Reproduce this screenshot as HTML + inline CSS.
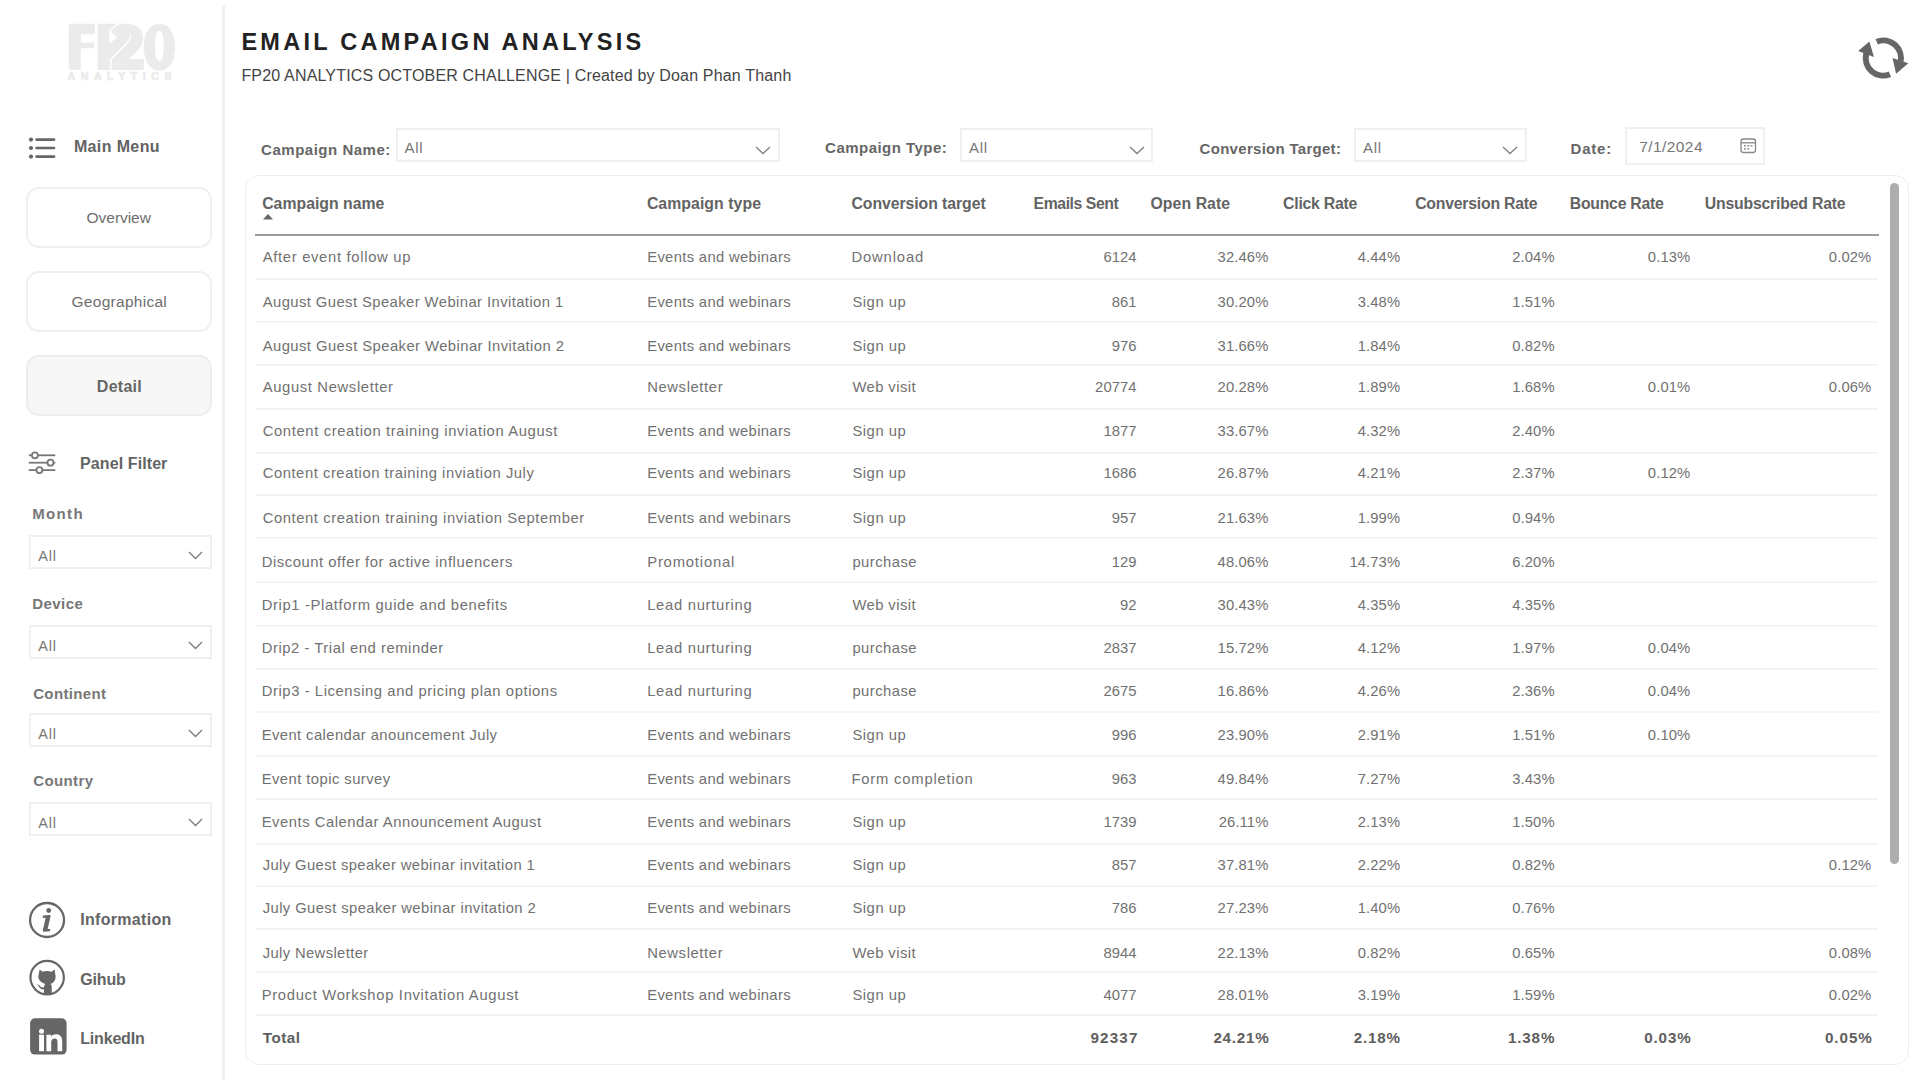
<!DOCTYPE html>
<html><head><meta charset="utf-8">
<style>
html,body{margin:0;padding:0;background:#fff;width:1920px;height:1080px;overflow:hidden;position:relative}
body{font-family:"Liberation Sans",sans-serif}
.t{position:absolute;line-height:0;height:0;white-space:nowrap}
.t.r{text-align:right}
.t.c{text-align:center}
.abs,svg{position:absolute}
.dd{position:absolute;box-sizing:border-box;border:2px solid #f0f0f0;background:transparent}
.btn{position:absolute;box-sizing:border-box;left:26px;width:186px;height:61px;border:2px solid #efefef;border-radius:13px;background:#fff}
.rl{position:absolute;left:255px;width:1623px;height:2px;background:#f4f4f4}
.title{font-size:23.5px;font-weight:700;color:#222;letter-spacing:3.2px}
.sub{font-size:16px;font-weight:400;color:#444;letter-spacing:0.15px}
.menu{font-size:16px;font-weight:700;color:#636363;letter-spacing:0.2px}
.btnt{font-size:15.5px;font-weight:400;color:#6e6e6e;letter-spacing:0.1px}
.btnb{font-size:16px;font-weight:700;color:#666;letter-spacing:0.0px}
.flbl{font-size:15px;font-weight:700;color:#777;letter-spacing:0.2px}
.all{font-size:14.5px;font-weight:400;color:#777;letter-spacing:0.2px}
.link{font-size:16px;font-weight:700;color:#646464;letter-spacing:0.1px}
.flt{font-size:15px;font-weight:700;color:#666;letter-spacing:0.3px}
.date{font-size:15.5px;font-weight:400;color:#777;letter-spacing:0.2px}
.allt{font-size:15px;font-weight:400;color:#777;letter-spacing:0.1px}
.hdr{font-size:15.8px;font-weight:700;color:#636363;letter-spacing:0.0px}
.cell{font-size:14.8px;font-weight:400;color:#717171;letter-spacing:0.5px}
.num{font-size:14.8px;font-weight:400;color:#717171;letter-spacing:0.1px}
.tot{font-size:15.2px;font-weight:700;color:#5e5e5e;letter-spacing:0.0px}
</style></head><body>
<!-- sidebar separator -->
<div class="abs" style="left:222px;top:5px;width:2.5px;height:1075px;background:#f0f0f0"></div>
<!-- logo -->
<svg style="left:0;top:0" width="222" height="100" viewBox="0 0 222 100">
 <g fill="#ebebeb">
  <path d="M68.75 26 Q68.75 23.75 71 23.75 L95 23.75 L95 34.2 L80.8 34.2 L80.8 42.5 L94.2 42.5 L94.2 48.3 L80.8 48.3 L80.8 70 L71 70 Q68.75 70 68.75 67.5 Z"/>
  <path d="M97.5 23.75 L126 23.75 C137 23.75 143 30 143 38 C143 45 139 50 133 55 L128 59 L143.75 59 L143.75 70 L97.5 70 Z"/>
  <path fill-rule="evenodd" d="M159.4 23.75 C168.5 23.75 175 32 175 46.9 C175 61.8 168.5 70.5 159.4 70.5 C150.3 70.5 143.8 61.8 143.8 46.9 C143.8 32 150.3 23.75 159.4 23.75 Z M159.4 30.8 C156.5 30.8 155 36 155 45.8 C155 55.6 156.5 60.8 159.4 60.8 C162.3 60.8 163.8 55.6 163.8 45.8 C163.8 36 162.3 30.8 159.4 30.8 Z"/>
  <text x="67.5" y="80" font-family="Liberation Sans" font-weight="700" font-size="10.5" textLength="104" lengthAdjust="spacing" stroke="#ebebeb" stroke-width="0.7">ANALYTICS</text>
 </g>
 <path d="M108.6 30.8 C112 32 115 34.5 117 37.5 C114.5 39.5 112 41.5 110 43.5 C109.6 39 109.2 34.8 108.6 30.8 Z" fill="#fff"/>
 <g fill="none" stroke="#fff" stroke-width="1.6">
  <path d="M119 24.2 C115 25.5 111.5 28.5 109.8 32"/>
  <path d="M130.6 35.5 C130 39.5 127.5 43 123.5 46.8 L110.8 59.5 L110.8 71"/>
 </g>
</svg>
<!-- menu icon -->
<svg style="left:0;top:120px" width="70" height="50">
 <g fill="#666"><circle cx="31" cy="19.6" r="2.1"/><circle cx="31" cy="28" r="2.1"/><circle cx="31" cy="36.6" r="2.1"/></g>
 <g stroke="#666" stroke-width="2.7" stroke-linecap="round"><line x1="36.6" y1="19.6" x2="54" y2="19.6"/><line x1="36.6" y1="28" x2="54" y2="28"/><line x1="36.6" y1="36.6" x2="54" y2="36.6"/></g>
</svg>
<div class="btn" style="top:187px"></div>
<div class="btn" style="top:271px"></div>
<div class="btn" style="top:355px;background:#f7f7f7;border-color:#ededed"></div>
<!-- panel filter icon -->
<svg style="left:0;top:440px" width="70" height="40">
 <g stroke="#777" stroke-width="1.8" fill="#fff">
  <line x1="28.8" y1="15.3" x2="55.3" y2="15.3"/><line x1="28.8" y1="22.7" x2="55.3" y2="22.7"/><line x1="28.8" y1="30.1" x2="55.3" y2="30.1"/>
  <circle cx="34.9" cy="15.3" r="3"/><circle cx="50.5" cy="22.7" r="3"/><circle cx="39.4" cy="30.1" r="3"/>
 </g>
</svg>
<!-- info icon -->
<svg style="left:0;top:890px" width="80" height="180">
 <circle cx="47.05" cy="30" r="17" fill="none" stroke="#666" stroke-width="2.3"/>
 <circle cx="48.7" cy="20.5" r="2.4" fill="#666"/>
 <path fill="#666" d="M43 25.4 L49.6 25.1 C50.4 25.1 50.7 25.6 50.5 26.4 L47.6 39 L50.3 38.9 L49.9 41.3 L43.9 41.7 C43 41.7 42.6 41.1 42.8 40.3 L45.7 27.8 L42.7 27.9 Z"/>
 <circle cx="47.15" cy="87.6" r="16.7" fill="none" stroke="#666" stroke-width="2.2"/>
 <path fill="#666" d="M39.6 79.6 L42.6 81.8 C44 81.3 45.5 81.1 47 81.1 C48.5 81.1 50 81.3 51.4 81.8 L54.7 79.6 L55.2 84 C55.5 84.8 55.6 85.6 55.6 86.5 C55.6 90.5 53.3 93.2 50.6 94 C51.3 94.6 51.75 95.6 51.75 97 L51.75 104 C50 104.6 45.8 104.6 44 104 L44 99.5 C41.5 99.5 40 98.5 38.6 96.2 C38 95.3 37 94.5 36.2 94.2 C37.6 94.1 39 94.8 40 96 C41 97.3 42.2 97.6 44 97.3 C44.1 95.8 44.6 94.7 45.3 94 C42.3 93.2 38.3 90.5 38.3 86.5 C38.3 85.6 38.5 84.8 38.8 84 Z"/>
 <rect x="30.1" y="128.2" width="36.5" height="36.4" rx="5" fill="#666"/>
 <circle cx="41.5" cy="141.3" r="2.5" fill="#fff"/>
 <rect x="39.1" y="144.7" width="4.9" height="16.5" fill="#fff"/>
 <path fill="#fff" d="M46.4 144.7 L51.2 144.7 L51.2 146.6 C52.2 145 54 144.2 56.2 144.2 C60 144.2 62.2 146.6 62.2 150.8 L62.2 161.2 L57.5 161.2 L57.5 151.8 C57.5 149.8 56.7 148.5 54.8 148.5 C52.6 148.5 51.2 150 51.2 152.5 L51.2 161.2 L46.4 161.2 Z"/>
</svg>
<!-- refresh icon -->
<svg style="left:1850px;top:28px" width="65" height="60">
 <g fill="none" stroke="#666" stroke-width="6">
  <path d="M26.7 13.7 A17.6 17.6 0 0 1 50.3 34.6"/>
  <path d="M39.9 46.3 A17.6 17.6 0 0 1 16.3 25.4"/>
 </g>
 <g fill="#666">
  <path d="M42.5 30.0 L58.3 35.3 L46.1 45.8 Z"/>
  <path d="M8.2 23.0 L24 28.9 L19.4 13.5 Z"/>
 </g>
</svg>
<!-- calendar icon -->
<svg style="left:1738px;top:136px" width="22" height="20">
 <rect x="3" y="3" width="14.5" height="13.5" rx="2.5" fill="none" stroke="#888" stroke-width="1.3"/>
 <line x1="3" y1="6.8" x2="17.5" y2="6.8" stroke="#888" stroke-width="1.3"/>
 <g fill="#999"><rect x="6" y="9" width="2" height="1.6"/><rect x="9.3" y="9" width="2" height="1.6"/><rect x="12.5" y="9" width="2" height="1.6"/><rect x="6" y="12" width="2" height="1.6"/><rect x="9.3" y="12" width="2" height="1.6"/></g>
</svg>
<!-- table container -->
<div class="abs" style="left:245.2px;top:174.8px;width:1663.8px;height:890px;box-sizing:border-box;border:1.5px solid #eeeeee;border-radius:14px"></div>
<div class="abs" style="left:255px;top:234px;width:1623.5px;height:2.2px;background:#9c9c9c"></div>
<svg style="left:260px;top:210px" width="16" height="12"><path d="M3 9.5 L13 9.5 L8 4 Z" fill="#666"/></svg>
<div class="abs" style="left:1890px;top:183px;width:9.3px;height:681px;border-radius:5px;background:#aeaeae"></div>
<div class="rl" style="top:278px"></div>
<div class="rl" style="top:321px"></div>
<div class="rl" style="top:364px"></div>
<div class="rl" style="top:408px"></div>
<div class="rl" style="top:452px"></div>
<div class="rl" style="top:494px"></div>
<div class="rl" style="top:537px"></div>
<div class="rl" style="top:581px"></div>
<div class="rl" style="top:625px"></div>
<div class="rl" style="top:668px"></div>
<div class="rl" style="top:711px"></div>
<div class="rl" style="top:755px"></div>
<div class="rl" style="top:798px"></div>
<div class="rl" style="top:843px"></div>
<div class="rl" style="top:885px"></div>
<div class="rl" style="top:928px"></div>
<div class="rl" style="top:971px"></div>
<div class="rl" style="top:1014px"></div>
<div class="dd" style="left:29px;top:535px;width:183px;height:34px"></div>
<svg style="left:188px;top:551px" width="15" height="9"><path d="M1 1 L7.5 7.5 L14 1" fill="none" stroke="#7a7a7a" stroke-width="1.3"/></svg>
<div class="dd" style="left:29px;top:625px;width:183px;height:34px"></div>
<svg style="left:188px;top:641px" width="15" height="9"><path d="M1 1 L7.5 7.5 L14 1" fill="none" stroke="#7a7a7a" stroke-width="1.3"/></svg>
<div class="dd" style="left:29px;top:713px;width:183px;height:34px"></div>
<svg style="left:188px;top:729px" width="15" height="9"><path d="M1 1 L7.5 7.5 L14 1" fill="none" stroke="#7a7a7a" stroke-width="1.3"/></svg>
<div class="dd" style="left:29px;top:802px;width:183px;height:34px"></div>
<svg style="left:188px;top:818px" width="15" height="9"><path d="M1 1 L7.5 7.5 L14 1" fill="none" stroke="#7a7a7a" stroke-width="1.3"/></svg>
<div class="dd" style="left:395.5px;top:128px;width:384px;height:34px"></div>
<svg style="left:755.0px;top:145.5px" width="16" height="9"><path d="M1 1 L8 7.5 L15 1" fill="none" stroke="#808080" stroke-width="1.3"/></svg>
<div class="dd" style="left:960px;top:128px;width:193px;height:33.5px"></div>
<svg style="left:1128.5px;top:145.5px" width="16" height="9"><path d="M1 1 L8 7.5 L15 1" fill="none" stroke="#808080" stroke-width="1.3"/></svg>
<div class="dd" style="left:1354px;top:128px;width:172.5px;height:34px"></div>
<svg style="left:1502.0px;top:145.5px" width="16" height="9"><path d="M1 1 L8 7.5 L15 1" fill="none" stroke="#808080" stroke-width="1.3"/></svg>
<div class="dd" style="left:1625px;top:127px;width:140px;height:38px"></div>
<div id="e0" class="t cell" style="left:262.7px;top:256.97px;letter-spacing:0.68px">After event follow up</div>
<div id="e1" class="t cell" style="left:647.2px;top:256.97px;letter-spacing:0.333px">Events and webinars</div>
<div id="e2" class="t cell" style="left:851.4px;top:256.97px;letter-spacing:0.871px">Download</div>
<div id="e3" class="t r num" style="right:783.3px;top:256.97px">6124</div>
<div id="e4" class="t r num" style="right:651.6px;top:256.97px">32.46%</div>
<div id="e5" class="t r num" style="right:519.8px;top:256.97px">4.44%</div>
<div id="e6" class="t r num" style="right:365.3px;top:256.97px">2.04%</div>
<div id="e7" class="t r num" style="right:229.7px;top:256.97px">0.13%</div>
<div id="e8" class="t r num" style="right:48.7px;top:256.97px">0.02%</div>
<div id="e9" class="t cell" style="left:262.7px;top:301.77px;letter-spacing:0.425px">August Guest Speaker Webinar Invitation 1</div>
<div id="e10" class="t cell" style="left:647.2px;top:301.77px;letter-spacing:0.333px">Events and webinars</div>
<div id="e11" class="t cell" style="left:852.4px;top:301.77px;letter-spacing:0.533px">Sign up</div>
<div id="e12" class="t r num" style="right:783.3px;top:301.77px">861</div>
<div id="e13" class="t r num" style="right:651.6px;top:301.77px">30.20%</div>
<div id="e14" class="t r num" style="right:519.8px;top:301.77px">3.48%</div>
<div id="e15" class="t r num" style="right:365.3px;top:301.77px">1.51%</div>
<div id="e16" class="t cell" style="left:262.7px;top:345.57px;letter-spacing:0.445px">August Guest Speaker Webinar Invitation 2</div>
<div id="e17" class="t cell" style="left:647.2px;top:345.57px;letter-spacing:0.333px">Events and webinars</div>
<div id="e18" class="t cell" style="left:852.4px;top:345.57px;letter-spacing:0.533px">Sign up</div>
<div id="e19" class="t r num" style="right:783.3px;top:345.57px">976</div>
<div id="e20" class="t r num" style="right:651.6px;top:345.57px">31.66%</div>
<div id="e21" class="t r num" style="right:519.8px;top:345.57px">1.84%</div>
<div id="e22" class="t r num" style="right:365.3px;top:345.57px">0.82%</div>
<div id="e23" class="t cell" style="left:262.7px;top:387.37px;letter-spacing:0.638px">August Newsletter</div>
<div id="e24" class="t cell" style="left:647.2px;top:387.37px;letter-spacing:0.611px">Newsletter</div>
<div id="e25" class="t cell" style="left:852.4px;top:387.37px;letter-spacing:0.425px">Web visit</div>
<div id="e26" class="t r num" style="right:783.3px;top:387.37px">20774</div>
<div id="e27" class="t r num" style="right:651.6px;top:387.37px">20.28%</div>
<div id="e28" class="t r num" style="right:519.8px;top:387.37px">1.89%</div>
<div id="e29" class="t r num" style="right:365.3px;top:387.37px">1.68%</div>
<div id="e30" class="t r num" style="right:229.7px;top:387.37px">0.01%</div>
<div id="e31" class="t r num" style="right:48.7px;top:387.37px">0.06%</div>
<div id="e32" class="t cell" style="left:262.7px;top:431.17px;letter-spacing:0.627px">Content creation training inviation August</div>
<div id="e33" class="t cell" style="left:647.2px;top:431.17px;letter-spacing:0.333px">Events and webinars</div>
<div id="e34" class="t cell" style="left:852.4px;top:431.17px;letter-spacing:0.533px">Sign up</div>
<div id="e35" class="t r num" style="right:783.3px;top:431.17px">1877</div>
<div id="e36" class="t r num" style="right:651.6px;top:431.17px">33.67%</div>
<div id="e37" class="t r num" style="right:519.8px;top:431.17px">4.32%</div>
<div id="e38" class="t r num" style="right:365.3px;top:431.17px">2.40%</div>
<div id="e39" class="t cell" style="left:262.7px;top:473.47px;letter-spacing:0.541px">Content creation training inviation July</div>
<div id="e40" class="t cell" style="left:647.2px;top:473.47px;letter-spacing:0.333px">Events and webinars</div>
<div id="e41" class="t cell" style="left:852.4px;top:473.47px;letter-spacing:0.533px">Sign up</div>
<div id="e42" class="t r num" style="right:783.3px;top:473.47px">1686</div>
<div id="e43" class="t r num" style="right:651.6px;top:473.47px">26.87%</div>
<div id="e44" class="t r num" style="right:519.8px;top:473.47px">4.21%</div>
<div id="e45" class="t r num" style="right:365.3px;top:473.47px">2.37%</div>
<div id="e46" class="t r num" style="right:229.7px;top:473.47px">0.12%</div>
<div id="e47" class="t cell" style="left:262.7px;top:518.27px;letter-spacing:0.577px">Content creation training inviation September</div>
<div id="e48" class="t cell" style="left:647.2px;top:518.27px;letter-spacing:0.333px">Events and webinars</div>
<div id="e49" class="t cell" style="left:852.4px;top:518.27px;letter-spacing:0.533px">Sign up</div>
<div id="e50" class="t r num" style="right:783.3px;top:518.27px">957</div>
<div id="e51" class="t r num" style="right:651.6px;top:518.27px">21.63%</div>
<div id="e52" class="t r num" style="right:519.8px;top:518.27px">1.99%</div>
<div id="e53" class="t r num" style="right:365.3px;top:518.27px">0.94%</div>
<div id="e54" class="t cell" style="left:261.7px;top:562.07px;letter-spacing:0.55px">Discount offer for active influencers</div>
<div id="e55" class="t cell" style="left:647.2px;top:562.07px;letter-spacing:0.82px">Promotional</div>
<div id="e56" class="t cell" style="left:852.4px;top:562.07px;letter-spacing:0.471px">purchase</div>
<div id="e57" class="t r num" style="right:783.3px;top:562.07px">129</div>
<div id="e58" class="t r num" style="right:651.6px;top:562.07px">48.06%</div>
<div id="e59" class="t r num" style="right:519.8px;top:562.07px">14.73%</div>
<div id="e60" class="t r num" style="right:365.3px;top:562.07px">6.20%</div>
<div id="e61" class="t cell" style="left:261.7px;top:605.47px;letter-spacing:0.633px">Drip1 -Platform guide and benefits</div>
<div id="e62" class="t cell" style="left:647.2px;top:605.47px;letter-spacing:0.7px">Lead nurturing</div>
<div id="e63" class="t cell" style="left:852.4px;top:605.47px;letter-spacing:0.425px">Web visit</div>
<div id="e64" class="t r num" style="right:783.3px;top:605.47px">92</div>
<div id="e65" class="t r num" style="right:651.6px;top:605.47px">30.43%</div>
<div id="e66" class="t r num" style="right:519.8px;top:605.47px">4.35%</div>
<div id="e67" class="t r num" style="right:365.3px;top:605.47px">4.35%</div>
<div id="e68" class="t cell" style="left:261.7px;top:647.67px;letter-spacing:0.548px">Drip2 - Trial end reminder</div>
<div id="e69" class="t cell" style="left:647.2px;top:647.67px;letter-spacing:0.7px">Lead nurturing</div>
<div id="e70" class="t cell" style="left:852.4px;top:647.67px;letter-spacing:0.471px">purchase</div>
<div id="e71" class="t r num" style="right:783.3px;top:647.67px">2837</div>
<div id="e72" class="t r num" style="right:651.6px;top:647.67px">15.72%</div>
<div id="e73" class="t r num" style="right:519.8px;top:647.67px">4.12%</div>
<div id="e74" class="t r num" style="right:365.3px;top:647.67px">1.97%</div>
<div id="e75" class="t r num" style="right:229.7px;top:647.67px">0.04%</div>
<div id="e76" class="t cell" style="left:261.7px;top:690.67px;letter-spacing:0.583px">Drip3 - Licensing and pricing plan options</div>
<div id="e77" class="t cell" style="left:647.2px;top:690.67px;letter-spacing:0.7px">Lead nurturing</div>
<div id="e78" class="t cell" style="left:852.4px;top:690.67px;letter-spacing:0.471px">purchase</div>
<div id="e79" class="t r num" style="right:783.3px;top:690.67px">2675</div>
<div id="e80" class="t r num" style="right:651.6px;top:690.67px">16.86%</div>
<div id="e81" class="t r num" style="right:519.8px;top:690.67px">4.26%</div>
<div id="e82" class="t r num" style="right:365.3px;top:690.67px">2.36%</div>
<div id="e83" class="t r num" style="right:229.7px;top:690.67px">0.04%</div>
<div id="e84" class="t cell" style="left:261.7px;top:735.47px;letter-spacing:0.413px">Event calendar anouncement July</div>
<div id="e85" class="t cell" style="left:647.2px;top:735.47px;letter-spacing:0.333px">Events and webinars</div>
<div id="e86" class="t cell" style="left:852.4px;top:735.47px;letter-spacing:0.533px">Sign up</div>
<div id="e87" class="t r num" style="right:783.3px;top:735.47px">996</div>
<div id="e88" class="t r num" style="right:651.6px;top:735.47px">23.90%</div>
<div id="e89" class="t r num" style="right:519.8px;top:735.47px">2.91%</div>
<div id="e90" class="t r num" style="right:365.3px;top:735.47px">1.51%</div>
<div id="e91" class="t r num" style="right:229.7px;top:735.47px">0.10%</div>
<div id="e92" class="t cell" style="left:261.7px;top:778.87px;letter-spacing:0.441px">Event topic survey</div>
<div id="e93" class="t cell" style="left:647.2px;top:778.87px;letter-spacing:0.333px">Events and webinars</div>
<div id="e94" class="t cell" style="left:851.4px;top:778.87px;letter-spacing:0.8px">Form completion</div>
<div id="e95" class="t r num" style="right:783.3px;top:778.87px">963</div>
<div id="e96" class="t r num" style="right:651.6px;top:778.87px">49.84%</div>
<div id="e97" class="t r num" style="right:519.8px;top:778.87px">7.27%</div>
<div id="e98" class="t r num" style="right:365.3px;top:778.87px">3.43%</div>
<div id="e99" class="t cell" style="left:261.7px;top:821.57px;letter-spacing:0.524px">Events Calendar Announcement August</div>
<div id="e100" class="t cell" style="left:647.2px;top:821.57px;letter-spacing:0.333px">Events and webinars</div>
<div id="e101" class="t cell" style="left:852.4px;top:821.57px;letter-spacing:0.533px">Sign up</div>
<div id="e102" class="t r num" style="right:783.3px;top:821.57px">1739</div>
<div id="e103" class="t r num" style="right:651.6px;top:821.57px">26.11%</div>
<div id="e104" class="t r num" style="right:519.8px;top:821.57px">2.13%</div>
<div id="e105" class="t r num" style="right:365.3px;top:821.57px">1.50%</div>
<div id="e106" class="t cell" style="left:262.7px;top:864.77px;letter-spacing:0.384px">July Guest speaker webinar invitation 1</div>
<div id="e107" class="t cell" style="left:647.2px;top:864.77px;letter-spacing:0.333px">Events and webinars</div>
<div id="e108" class="t cell" style="left:852.4px;top:864.77px;letter-spacing:0.533px">Sign up</div>
<div id="e109" class="t r num" style="right:783.3px;top:864.77px">857</div>
<div id="e110" class="t r num" style="right:651.6px;top:864.77px">37.81%</div>
<div id="e111" class="t r num" style="right:519.8px;top:864.77px">2.22%</div>
<div id="e112" class="t r num" style="right:365.3px;top:864.77px">0.82%</div>
<div id="e113" class="t r num" style="right:48.7px;top:864.77px">0.12%</div>
<div id="e114" class="t cell" style="left:262.7px;top:908.37px;letter-spacing:0.411px">July Guest speaker webinar invitation 2</div>
<div id="e115" class="t cell" style="left:647.2px;top:908.37px;letter-spacing:0.333px">Events and webinars</div>
<div id="e116" class="t cell" style="left:852.4px;top:908.37px;letter-spacing:0.533px">Sign up</div>
<div id="e117" class="t r num" style="right:783.3px;top:908.37px">786</div>
<div id="e118" class="t r num" style="right:651.6px;top:908.37px">27.23%</div>
<div id="e119" class="t r num" style="right:519.8px;top:908.37px">1.40%</div>
<div id="e120" class="t r num" style="right:365.3px;top:908.37px">0.76%</div>
<div id="e121" class="t cell" style="left:262.7px;top:953.07px;letter-spacing:0.371px">July Newsletter</div>
<div id="e122" class="t cell" style="left:647.2px;top:953.07px;letter-spacing:0.611px">Newsletter</div>
<div id="e123" class="t cell" style="left:852.4px;top:953.07px;letter-spacing:0.425px">Web visit</div>
<div id="e124" class="t r num" style="right:783.3px;top:953.07px">8944</div>
<div id="e125" class="t r num" style="right:651.6px;top:953.07px">22.13%</div>
<div id="e126" class="t r num" style="right:519.8px;top:953.07px">0.82%</div>
<div id="e127" class="t r num" style="right:365.3px;top:953.07px">0.65%</div>
<div id="e128" class="t r num" style="right:48.7px;top:953.07px">0.08%</div>
<div id="e129" class="t cell" style="left:261.7px;top:994.97px;letter-spacing:0.682px">Product Workshop Invitation August</div>
<div id="e130" class="t cell" style="left:647.2px;top:994.97px;letter-spacing:0.333px">Events and webinars</div>
<div id="e131" class="t cell" style="left:852.4px;top:994.97px;letter-spacing:0.533px">Sign up</div>
<div id="e132" class="t r num" style="right:783.3px;top:994.97px">4077</div>
<div id="e133" class="t r num" style="right:651.6px;top:994.97px">28.01%</div>
<div id="e134" class="t r num" style="right:519.8px;top:994.97px">3.19%</div>
<div id="e135" class="t r num" style="right:365.3px;top:994.97px">1.59%</div>
<div id="e136" class="t r num" style="right:48.7px;top:994.97px">0.02%</div>
<div id="e137" class="t tot" style="left:262.7px;top:1037.63px;letter-spacing:0.55px">Total</div>
<div id="e138" class="t r tot" style="right:781.4px;top:1037.63px;letter-spacing:1.2px">92337</div>
<div id="e139" class="t r tot" style="right:650.54px;top:1037.63px;letter-spacing:0.76px">24.21%</div>
<div id="e140" class="t r tot" style="right:519.35px;top:1037.63px;letter-spacing:0.75px">2.18%</div>
<div id="e141" class="t r tot" style="right:364.75px;top:1037.63px;letter-spacing:0.85px">1.38%</div>
<div id="e142" class="t r tot" style="right:228.3px;top:1037.63px;letter-spacing:0.9px">0.03%</div>
<div id="e143" class="t r tot" style="right:47.25px;top:1037.63px;letter-spacing:0.95px">0.05%</div>
<div id="e144" class="t hdr" style="left:262.2px;top:204.33px;letter-spacing:0.017px">Campaign name</div>
<div id="e145" class="t hdr" style="left:646.9px;top:204.33px;letter-spacing:0.067px">Campaign type</div>
<div id="e146" class="t hdr" style="left:851.5px;top:204.33px;letter-spacing:-0.062px">Conversion target</div>
<div id="e147" class="t hdr" style="left:1033.6px;top:204.33px;letter-spacing:-0.44px">Emails Sent</div>
<div id="e148" class="t hdr" style="left:1150.5px;top:204.33px;letter-spacing:0.075px">Open Rate</div>
<div id="e149" class="t hdr" style="left:1283.1px;top:204.33px;letter-spacing:-0.244px">Click Rate</div>
<div id="e150" class="t hdr" style="left:1415.2px;top:204.33px;letter-spacing:-0.229px">Conversion Rate</div>
<div id="e151" class="t hdr" style="left:1569.8px;top:204.33px;letter-spacing:-0.26px">Bounce Rate</div>
<div id="e152" class="t hdr" style="left:1704.8px;top:204.33px;letter-spacing:-0.2px">Unsubscribed Rate</div>
<div id="e153" class="t title" style="left:241.4px;top:42.26px;letter-spacing:3.273px">EMAIL CAMPAIGN ANALYSIS</div>
<div id="e154" class="t sub" style="left:241.4px;top:75.86px;letter-spacing:0.173px">FP20 ANALYTICS OCTOBER CHALLENGE | Created by Doan Phan Thanh</div>
<div id="e155" class="t menu" style="left:73.9px;top:146.76px;letter-spacing:0.375px">Main Menu</div>
<div id="e156" class="t btnt" style="left:86.6px;top:218.13px;letter-spacing:-0.043px">Overview</div>
<div id="e157" class="t btnt" style="left:71.5px;top:302.13px;letter-spacing:0.282px">Geographical</div>
<div id="e158" class="t btnb" style="left:96.8px;top:387.16px;letter-spacing:0.28px">Detail</div>
<div id="e159" class="t menu" style="left:80.1px;top:464.06px;letter-spacing:0.091px">Panel Filter</div>
<div id="e160" class="t flbl" style="left:32.2px;top:514.1px;letter-spacing:1.35px">Month</div>
<div id="e161" class="t flbl" style="left:32.2px;top:604.1px;letter-spacing:0.44px">Device</div>
<div id="e162" class="t flbl" style="left:33.2px;top:693.6px;letter-spacing:0.35px">Continent</div>
<div id="e163" class="t flbl" style="left:33.2px;top:781.3px;letter-spacing:0.4px">Country</div>
<div id="e164" class="t all" style="left:38.2px;top:556.28px;letter-spacing:0.8px">All</div>
<div id="e165" class="t all" style="left:38.2px;top:646.28px;letter-spacing:0.8px">All</div>
<div id="e166" class="t all" style="left:38.2px;top:734.28px;letter-spacing:0.8px">All</div>
<div id="e167" class="t all" style="left:38.2px;top:823.28px;letter-spacing:0.8px">All</div>
<div id="e168" class="t link" style="left:80.25px;top:920.26px;letter-spacing:0.3px">Information</div>
<div id="e169" class="t link" style="left:80.25px;top:980.26px;letter-spacing:-0.15px">Gihub</div>
<div id="e170" class="t link" style="left:80.25px;top:1038.86px;letter-spacing:-0.186px">LinkedIn</div>
<div id="e171" class="t flt" style="left:261.1px;top:149.6px;letter-spacing:0.515px">Campaign Name:</div>
<div id="e172" class="t flt" style="left:825.1px;top:147.9px;letter-spacing:0.469px">Campaign Type:</div>
<div id="e173" class="t flt" style="left:1199.6px;top:148.8px;letter-spacing:0.288px">Conversion Target:</div>
<div id="e174" class="t flt" style="left:1570.5px;top:148.5px;letter-spacing:0.8px">Date:</div>
<div id="e175" class="t allt" style="left:404.4px;top:148.3px;letter-spacing:0.8px">All</div>
<div id="e176" class="t allt" style="left:968.9px;top:148.3px;letter-spacing:0.8px">All</div>
<div id="e177" class="t allt" style="left:1362.9px;top:148.3px;letter-spacing:0.8px">All</div>
<div id="e178" class="t date" style="left:1639.2px;top:146.93px;letter-spacing:0.429px">7/1/2024</div>
</body></html>
